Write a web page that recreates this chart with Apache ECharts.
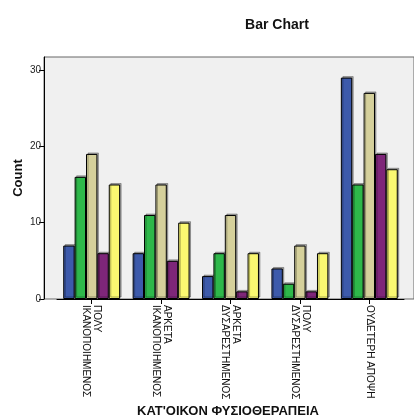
<!DOCTYPE html>
<html>
<head>
<meta charset="utf-8">
<script src="https://cdn.jsdelivr.net/npm/echarts@6/dist/echarts.min.js"></script>
<style>
  html, body { margin: 0; padding: 0; background: #fff; }
  #container { width: 414px; height: 419px; }
</style>
</head>
<body>
<div id="container"></div>
<script>
// categories on the x axis
var categories = [
	'ΠΟΛΥ\nΙΚΑΝΟΠΟΙΗΜΕΝΟΣ',
	'ΑΡΚΕΤΑ\nΙΚΑΝΟΠΟΙΗΜΕΝΟΣ',
	'ΑΡΚΕΤΑ\nΔΥΣΑΡΕΣΤΗΜΕΝΟΣ',
	'ΠΟΛΥ\nΔΥΣΑΡΕΣΤΗΜΕΝΟΣ',
	'ΟΥΔΕΤΕΡΗ ΑΠΟΨΗ'
];
// five groups (legend is outside the picture)
var group1 = [7, 6, 3, 4, 29];
var group2 = [16, 11, 6, 2, 15];
var group3 = [19, 15, 11, 7, 27];
var group4 = [6, 5, 1, 1, 19];
var group5 = [15, 10, 6, 6, 17];
var yTicks = [0, 10, 20, 30];

var colors = ['#3d5aab', '#2eb84a', '#d5d09b', '#7e2679', '#faf871'];
var groups = [group1, group2, group3, group4, group5];

var dom = document.getElementById('container');
var myChart = echarts.init(dom, null, { renderer: 'canvas' });
var font = '"Liberation Sans", Arial, sans-serif';

var series = [];
for (var i = 0; i < groups.length; i++) {
	series.push({
		name: 'group ' + (i + 1),
		type: 'bar',
		xAxisIndex: 1,
		yAxisIndex: 1,
		data: groups[i],
		barGap: '0%',
		barCategoryGap: '18%',
		itemStyle: {
			color: colors[i],
			borderColor: '#000',
			borderWidth: 1,
			shadowColor: 'rgba(0,0,0,0.3)',
			shadowOffsetX: 1.5,
			shadowOffsetY: -1.5
		},
		emphasis: { disabled: true }
	});
}

var option = {
	backgroundColor: '#fff',
	animation: false,
	textStyle: { fontFamily: font },
	title: {
		text: 'Bar Chart',
		left: 272,
		top: 13,
		textAlign: 'center',
		textStyle: { fontSize: 14, fontWeight: 'bold', color: '#111', fontFamily: font }
	},
	grid: [
		// frame
		{ left: 44, top: 57, width: 390, height: 242, show: true,
		  backgroundColor: '#f0f0f0', borderColor: '#666', borderWidth: 1 },
		// bars
		{ left: 57, top: 57, width: 347, height: 242 }
	],
	xAxis: [
		{ gridIndex: 0, type: 'value', show: false, min: 0, max: 1 },
		{
			gridIndex: 1,
			type: 'category',
			data: categories,
			axisLine: { show: true, lineStyle: { color: '#000', width: 1 } },
			axisTick: { show: true, alignWithLabel: true, length: 5, lineStyle: { color: '#000' } },
			axisLabel: {
				rotate: -90,
				interval: 0,
				margin: 6,
				fontSize: 10,
				lineHeight: 11,
				color: '#111',
				fontFamily: font
			}
		}
	],
	yAxis: [
		{
			gridIndex: 0,
			type: 'value',
			min: 0,
			max: 31.7,
			axisLine: { show: true, lineStyle: { color: '#000', width: 1 } },
			axisTick: { show: true, length: 5, customValues: yTicks, lineStyle: { color: '#000' } },
			axisLabel: { fontSize: 10, color: '#222', margin: 3, customValues: yTicks, fontFamily: font },
			splitLine: { show: false }
		},
		{ gridIndex: 1, type: 'value', min: 0, max: 31.7, show: false, splitLine: { show: false } }
	],
	graphic: [
		{
			type: 'text',
			x: 18,
			y: 178,
			rotation: Math.PI / 2,
			style: {
				text: 'Count',
				fontSize: 13,
				fontWeight: 'bold',
				fontFamily: font,
				fill: '#111',
				textAlign: 'center',
				textVerticalAlign: 'middle'
			}
		},
		{
			type: 'text',
			x: 228,
			y: 411,
			style: {
				text: "ΚΑΤ'ΟΙΚΟΝ ΦΥΣΙΟΘΕΡΑΠΕΙΑ",
				fontSize: 13,
				fontWeight: 'bold',
				fontFamily: font,
				fill: '#111',
				textAlign: 'center',
				textVerticalAlign: 'middle'
			}
		}
	],
	series: series
};

if (option && typeof option === 'object') {
	myChart.setOption(option, true);
}
</script>
</body>
</html>
